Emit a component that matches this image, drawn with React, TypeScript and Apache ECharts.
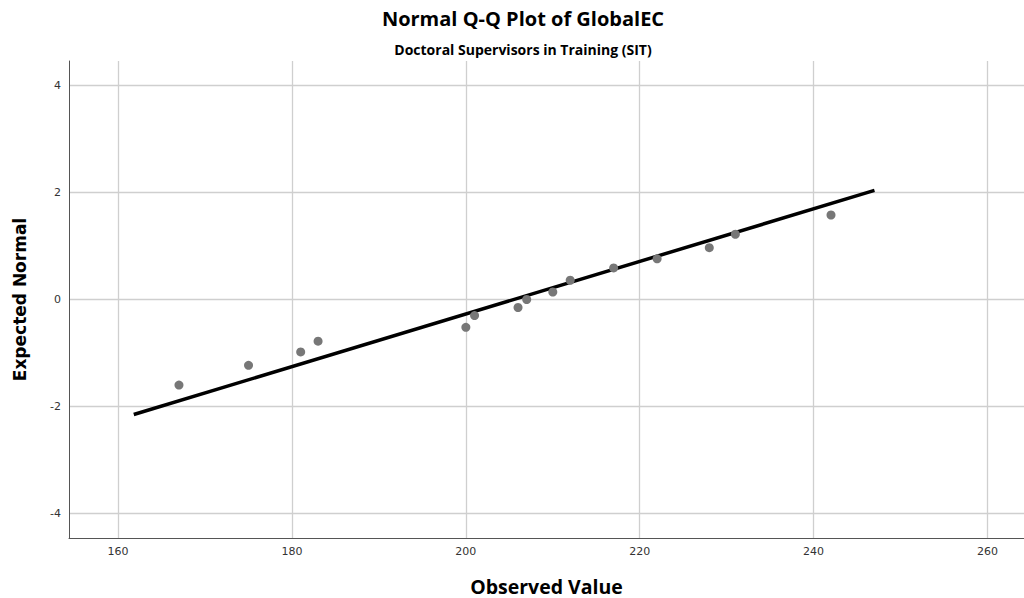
import React, { useEffect, useRef } from "react";
import * as echarts from "echarts";

const observed = [167, 175, 181, 183, 200, 201, 206, 207, 210, 212, 217, 222, 228, 231, 242];
const expected = [-1.6, -1.23, -0.98, -0.78, -0.52, -0.3, -0.15, 0.0, 0.14, 0.36, 0.59, 0.76, 0.97, 1.22, 1.58];
const refLineX = [161.8, 247];
const refLineY = [-2.15, 2.04];
const xTicks = [160, 180, 200, 220, 240, 260];
const yTicks = [-4, -2, 0, 2, 4];

const titleFont = "'Open Sans', sans-serif";

export default function App() {
  const ref = useRef<HTMLDivElement>(null);
  useEffect(() => {
    document.body.style.margin = "0";
    const chart = echarts.init(ref.current!, null, { renderer: "svg" });
    const labelFont = { fontFamily: "DejaVu Sans", fontSize: 11, color: "#333" };
    chart.setOption({
      animation: false,
      backgroundColor: "#fff",
      title: [
        {
          text: "Normal Q-Q Plot of GlobalEC",
          left: 518,
          textAlign: "center",
          top: 3,
          textStyle: { fontFamily: titleFont, fontWeight: "bold", fontSize: 20, color: "#000" },
        },
        {
          text: "Doctoral Supervisors in Training (SIT)",
          left: 518,
          textAlign: "center",
          top: 37,
          textStyle: { fontFamily: titleFont, fontWeight: "bold", fontSize: 14, color: "#000" },
        },
      ],
      grid: { left: 69, top: 61, right: 0, bottom: 60, outerBoundsMode: "none", containLabel: false },
      xAxis: {
        type: "value",
        min: 154.35,
        max: 264.2,
        name: "Observed Value",
        nameLocation: "middle",
        nameGap: 38,
        nameTextStyle: { fontFamily: titleFont, fontWeight: "bold", fontSize: 19.5, color: "#000" },
        axisLine: { show: true, onZero: false, lineStyle: { color: "#555", width: 1 } },
        axisTick: { show: false, customValues: xTicks },
        axisLabel: { ...labelFont, margin: 8, customValues: xTicks },
        splitLine: { show: true, lineStyle: { color: "#cfcfcf", width: 1.3 } },
      },
      yAxis: {
        type: "value",
        min: -4.46,
        max: 4.46,
        name: "Expected Normal",
        nameLocation: "middle",
        nameGap: 41,
        nameRotate: 90,
        nameTextStyle: { fontFamily: "DejaVu Sans", fontWeight: "bold", fontSize: 17, color: "#000" },
        axisLine: { show: true, onZero: false, lineStyle: { color: "#555", width: 1 } },
        axisTick: { show: false, customValues: yTicks },
        axisLabel: { ...labelFont, margin: 8, customValues: yTicks },
        splitLine: { show: true, lineStyle: { color: "#cfcfcf", width: 1.3 } },
      },
      series: [
        {
          type: "line",
          data: refLineX.map((x, i) => [x, refLineY[i]]),
          showSymbol: false,
          symbol: "none",
          lineStyle: { color: "#000", width: 3.5 },
          z: 2,
        },
        {
          type: "scatter",
          data: observed.map((x, i) => [x, expected[i]]),
          symbolSize: 9,
          itemStyle: { color: "#777", opacity: 1 },
          z: 3,
        },
      ],
    });
    return () => chart.dispose();
  }, []);
  return <div ref={ref} style={{ width: 1024, height: 598 }} />;
}
